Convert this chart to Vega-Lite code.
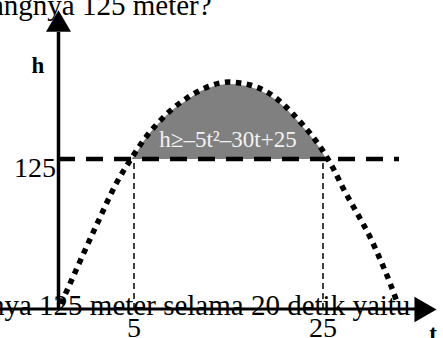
{
  "$schema": "https://vega.github.io/schema/vega-lite/v6.json",
  "width": 443,
  "height": 338,
  "autosize": {"type": "none"},
  "padding": 0,
  "background": "white",
  "config": {"view": {"stroke": null}},
  "encoding": {
    "x": {"field": "x", "type": "quantitative", "scale": {"domain": [0, 443], "nice": false, "zero": false}, "axis": null},
    "y": {"field": "y", "type": "quantitative", "scale": {"domain": [0, 338], "nice": false, "zero": false}, "axis": null}
  },
  "layer": [
    {
      "data": {"values": [{"x": 134, "y": 29, "y2": 179}, {"x": 323, "y": 29, "y2": 179}]},
      "mark": {"type": "rule", "strokeWidth": 1.5, "strokeDash": [6, 4], "color": "black"},
      "encoding": {"y2": {"field": "y2"}}
    },
    {
      "data": {"values": [
        {"x": 131, "y": 179, "y0": 179},
        {"x": 135, "y": 183, "y0": 179},
        {"x": 143, "y": 196, "y0": 179},
        {"x": 157, "y": 213, "y0": 179},
        {"x": 170, "y": 226, "y0": 179},
        {"x": 187, "y": 238, "y0": 179},
        {"x": 203, "y": 248, "y0": 179},
        {"x": 220, "y": 253, "y0": 179},
        {"x": 229, "y": 254, "y0": 179},
        {"x": 240, "y": 253, "y0": 179},
        {"x": 250, "y": 251, "y0": 179},
        {"x": 267, "y": 244, "y0": 179},
        {"x": 283, "y": 232, "y0": 179},
        {"x": 293, "y": 222, "y0": 179},
        {"x": 303, "y": 211, "y0": 179},
        {"x": 313, "y": 199, "y0": 179},
        {"x": 321, "y": 188, "y0": 179},
        {"x": 326, "y": 179, "y0": 179}
      ]},
      "mark": {"type": "area", "color": "#808080", "interpolate": "monotone"},
      "encoding": {"y2": {"field": "y0"}}
    },
    {
      "data": {"values": [{"x": 58, "x2": 399, "y": 179}]},
      "mark": {"type": "rule", "strokeWidth": 4.5, "strokeDash": [17, 11], "color": "black"},
      "encoding": {"x2": {"field": "x2"}}
    },
    {
      "data": {"values": [
        {"x": 61, "y": 34},
        {"x": 77, "y": 70},
        {"x": 97, "y": 114},
        {"x": 117, "y": 156},
        {"x": 133, "y": 182},
        {"x": 143, "y": 197},
        {"x": 157, "y": 214},
        {"x": 170, "y": 227},
        {"x": 187, "y": 240},
        {"x": 203, "y": 249},
        {"x": 220, "y": 255},
        {"x": 229, "y": 256},
        {"x": 240, "y": 255},
        {"x": 250, "y": 253},
        {"x": 267, "y": 246},
        {"x": 283, "y": 234},
        {"x": 293, "y": 224},
        {"x": 303, "y": 213},
        {"x": 313, "y": 201},
        {"x": 323, "y": 187},
        {"x": 333, "y": 170},
        {"x": 343, "y": 150},
        {"x": 357, "y": 125},
        {"x": 370, "y": 101},
        {"x": 380, "y": 79},
        {"x": 390, "y": 55},
        {"x": 397, "y": 36}
      ]},
      "mark": {"type": "line", "color": "black", "strokeWidth": 5.5, "strokeDash": [5.5, 5.5], "strokeCap": "butt", "interpolate": "monotone"},
      "encoding": {}
    },
    {
      "data": {"values": [{"x": 58.5, "y": 29, "y2": 306}]},
      "mark": {"type": "rule", "strokeWidth": 3.5, "color": "black"},
      "encoding": {"y2": {"field": "y2"}}
    },
    {
      "data": {"values": [{"x": 0, "x2": 416, "y": 29}]},
      "mark": {"type": "rule", "strokeWidth": 3, "color": "black"},
      "encoding": {"x2": {"field": "x2"}}
    },
    {
      "data": {"values": [{"x": 58.5, "y": 317}]},
      "mark": {"type": "point", "shape": "triangle-up", "size": 625, "filled": true, "color": "black", "opacity": 1, "strokeWidth": 0},
      "encoding": {}
    },
    {
      "data": {"values": [{"x": 425.5, "y": 28.5}]},
      "mark": {"type": "point", "shape": "triangle-right", "size": 650, "filled": true, "color": "black", "opacity": 1, "strokeWidth": 0},
      "encoding": {}
    },
    {
      "data": {"values": [{"x": 228, "y": 191, "label": "h≥–5t²–30t+25"}]},
      "mark": {"type": "text", "font": "Liberation Serif", "baseline": "alphabetic", "fontSize": 23, "color": "#f2f2f2", "align": "center"},
      "encoding": {"text": {"field": "label"}}
    },
    {
      "data": {"values": [{"x": -9, "y": 323, "label": "angnya 125 meter?"}, {"x": -10, "y": 23, "label": "nya 125 meter selama 20 detik yaitu"}]},
      "mark": {"type": "text", "font": "Liberation Serif", "baseline": "alphabetic", "fontSize": 29, "color": "black", "align": "left"},
      "encoding": {"text": {"field": "label"}}
    },
    {
      "data": {"values": [{"x": 38, "y": 265, "label": "h"}, {"x": 433, "y": -3, "label": "t"}]},
      "mark": {"type": "text", "font": "Liberation Serif", "baseline": "alphabetic", "fontSize": 23, "fontWeight": "bold", "color": "black", "align": "center"},
      "encoding": {"text": {"field": "label"}}
    },
    {
      "data": {"values": [{"x": 56, "y": 161, "label": "125"}]},
      "mark": {"type": "text", "font": "Liberation Serif", "baseline": "alphabetic", "fontSize": 28, "color": "black", "align": "right"},
      "encoding": {"text": {"field": "label"}}
    },
    {
      "data": {"values": [{"x": 134, "y": 1, "label": "5"}, {"x": 323, "y": 1, "label": "25"}]},
      "mark": {"type": "text", "font": "Liberation Serif", "baseline": "alphabetic", "fontSize": 28, "color": "black", "align": "center"},
      "encoding": {"text": {"field": "label"}}
    }
  ]
}
